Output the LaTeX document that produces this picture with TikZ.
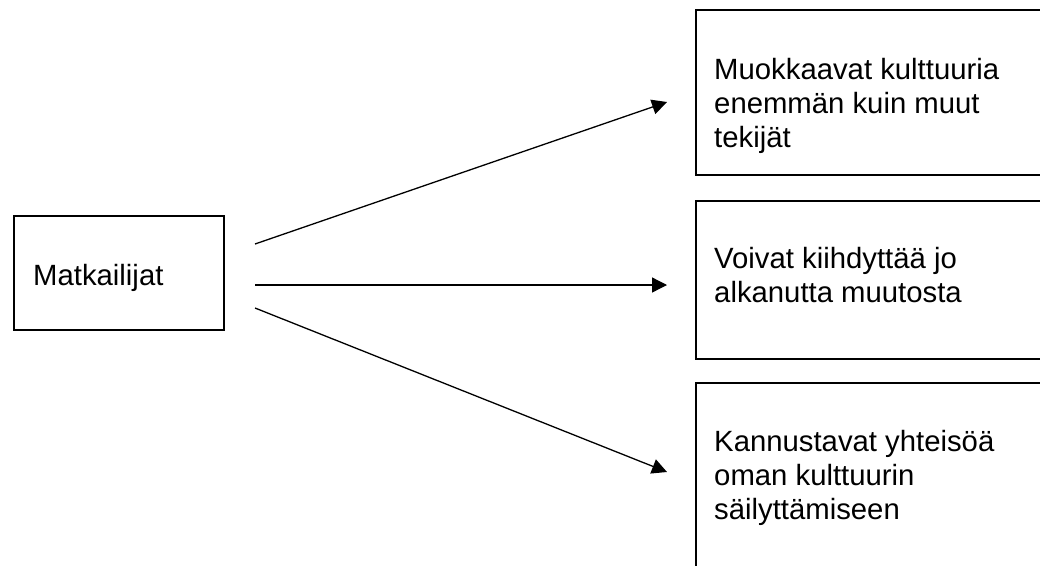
\documentclass[tikz,border=0pt]{standalone}
\usepackage{fontspec}
\setmainfont{Liberation Sans}
\usetikzlibrary{arrows.meta}
\begin{document}
\begin{tikzpicture}[x=1pt,y=-1pt,
  box/.style={draw, line width=1.8pt, inner sep=0pt, anchor=north west},
  txt/.style={anchor=base west, inner sep=0pt, align=left, font=\fontsize{29.3}{33.8}\selectfont},
  conn/.style={line width=1.3pt, -{Triangle[length=15pt,width=15pt]}}]
\useasboundingbox (0,0) rectangle (1040,565);
\clip (0,0) rectangle (1040,565);
% boxes
\node[box, minimum width=210pt, minimum height=114pt] (m) at (13,215) {};
\node[box, minimum width=380pt, minimum height=165pt] (b1) at (695,9) {};
\node[box, minimum width=380pt, minimum height=158pt] (b2) at (695,200) {};
\node[box, minimum width=380pt, minimum height=230pt] (b3) at (695,382) {};
% texts (base anchor = baseline of the last line)
\node[txt] (mt) at (33,285) {Matkailijat};
\node[txt] (t1) at (714,147) {Muokkaavat kulttuuria\\enemmän kuin muut\\tekijät};
\node[txt] (t2) at (714,302) {Voivat kiihdyttää jo\\alkanutta muutosta};
\node[txt] (t3) at (714,519) {Kannustavat yhteisöä\\oman kulttuurin\\säilyttämiseen};
% connector ends
\coordinate (s1) at (255,244);
\coordinate (e1) at (667,102);
\coordinate (s2) at (255,285);
\coordinate (e2) at (667,285);
\coordinate (s3) at (255,308);
\coordinate (e3) at (667,472);
\draw[conn] (s1) -- (e1);
\draw[conn] (s2) -- (e2);
\draw[conn] (s3) -- (e3);
\end{tikzpicture}
\end{document}
